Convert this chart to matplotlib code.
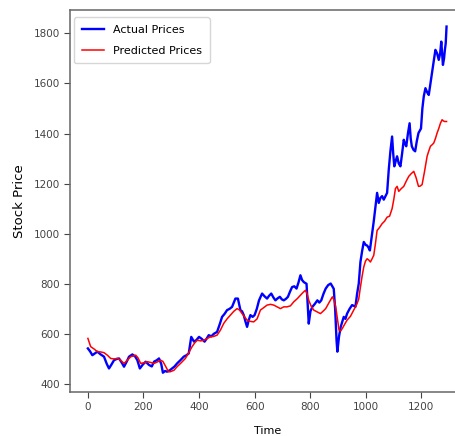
import matplotlib
matplotlib.use("Agg")
import matplotlib.pyplot as plt

# values
actual_t = [0, 8, 16, 25, 34, 46, 58, 68, 76, 85, 94, 104, 112, 122, 130, 140, 148, 160,
            170, 178, 187, 198, 208, 220, 230, 238, 248, 256, 264, 270, 278, 285, 295, 303,
            312, 321, 333, 345, 355, 363, 372, 382, 390, 400, 410, 420, 428, 435, 444, 453,
            465, 475, 483, 492, 501, 510, 519, 525, 531, 540, 549, 555, 561, 567, 573, 579,
            585, 593, 600, 608, 616, 627, 636, 645, 652, 660, 668, 675, 683, 691, 698, 705,
            713, 720, 728, 735, 743, 751, 758, 765, 771, 777, 787, 791, 795, 801, 808, 817,
            826, 833, 840, 848, 856, 865, 874, 885, 890, 895, 898, 904, 910, 916, 921, 927,
            933, 942, 951, 957, 963, 969, 975, 981, 987, 993, 1000, 1005, 1010, 1015, 1023,
            1029, 1035, 1041, 1047, 1053, 1059, 1065, 1071, 1077, 1083, 1089, 1095, 1099,
            1103, 1108, 1113, 1119, 1125, 1131, 1137, 1141, 1146, 1152, 1158, 1162, 1166,
            1172, 1178, 1184, 1190, 1199, 1204, 1209, 1215, 1221, 1227, 1233, 1239, 1245,
            1251, 1257, 1263, 1268, 1272, 1278, 1282, 1285, 1288, 1291]
actual_p = [542, 530, 515, 522, 529, 518, 509, 480, 462, 478, 495, 500, 502, 485, 469, 490,
            509, 518, 510, 495, 462, 478, 489, 476, 470, 489, 495, 502, 480, 445, 452, 449,
            455, 462, 470, 482, 495, 509, 515, 522, 588, 569, 575, 588, 580, 569, 582, 595,
            590, 600, 608, 640, 668, 680, 695, 700, 708, 725, 741, 741, 695, 690, 675, 650,
            628, 655, 675, 668, 675, 700, 734, 761, 750, 741, 752, 761, 745, 734, 742, 748,
            738, 734, 740, 748, 770, 787, 790, 781, 805, 834, 815, 807, 800, 720, 641, 690,
            708, 720, 734, 725, 734, 760, 781, 795, 801, 780, 700, 575, 529, 590, 628, 650,
            668, 660, 681, 700, 715, 712, 708, 760, 801, 887, 930, 967, 955, 953, 945, 933,
            1000, 1050, 1106, 1163, 1123, 1143, 1150, 1136, 1150, 1163, 1256, 1330, 1388,
            1320, 1269, 1290, 1309, 1280, 1269, 1320, 1375, 1360, 1349, 1400, 1441, 1380,
            1349, 1335, 1329, 1370, 1402, 1420, 1500, 1548, 1581, 1565, 1554, 1600, 1647,
            1690, 1734, 1720, 1694, 1720, 1767, 1674, 1700, 1734, 1760, 1827]

pred_t = [0, 10, 22, 34, 46, 58, 70, 82, 94, 106, 118, 130, 142, 154, 164, 172, 180, 190,
          202, 214, 226, 238, 250, 262, 270, 280, 290, 297, 310, 321, 336, 351, 363, 375,
          385, 394, 406, 418, 430, 441, 453, 465, 477, 489, 501, 513, 525, 537, 546, 555,
          564, 573, 585, 597, 609, 621, 633, 645, 657, 669, 681, 693, 705, 717, 729, 741,
          753, 765, 774, 783, 789, 795, 804, 813, 825, 837, 846, 856, 868, 880, 886, 892,
          898, 904, 910, 916, 925, 933, 945, 957, 963, 969, 975, 981, 987, 993, 999, 1005,
          1011, 1017, 1023, 1029, 1035, 1041, 1050, 1059, 1068, 1077, 1086, 1095, 1101,
          1107, 1113, 1119, 1128, 1137, 1146, 1155, 1164, 1173, 1181, 1190, 1196, 1203,
          1212, 1221, 1227, 1233, 1239, 1245, 1251, 1257, 1263, 1269, 1275, 1280, 1284, 1291]
pred_p = [582, 549, 540, 529, 528, 525, 515, 502, 500, 502, 495, 482, 495, 509, 512, 515,
          505, 482, 485, 489, 486, 482, 488, 495, 490, 470, 449, 449, 455, 469, 485, 502,
          525, 549, 565, 575, 572, 575, 582, 588, 590, 595, 615, 642, 660, 675, 690, 701,
          695, 681, 668, 655, 650, 648, 660, 695, 705, 715, 718, 715, 708, 701, 708, 708,
          712, 728, 740, 754, 765, 774, 760, 734, 710, 695, 688, 681, 690, 701, 725, 748,
          735, 708, 660, 615, 612, 622, 640, 655, 670, 695, 708, 721, 740, 787, 830, 867,
          890, 900, 895, 887, 900, 914, 960, 1013, 1025, 1040, 1050, 1066, 1070, 1100,
          1136, 1180, 1189, 1169, 1180, 1189, 1210, 1229, 1240, 1249, 1225, 1189, 1190,
          1196, 1250, 1309, 1330, 1349, 1355, 1362, 1380, 1402, 1420, 1441, 1455, 1450,
          1448, 1448]

fig = plt.figure(figsize=(4.55, 4.36), dpi=100)
# right edge of the axes sits just past the figure, as in the cropped reference
ax = fig.add_axes([0.1538, 0.1009, 0.867, 0.8761])

ax.plot(actual_t, actual_p, color="blue", linewidth=1.7, label="Actual Prices")
ax.plot(pred_t, pred_p, color="red", linewidth=1.1, label="Predicted Prices")

ax.set_xlim(-64.5, 1355.5)
ax.set_ylim(368, 1893)
ax.set_xticks([0, 200, 400, 600, 800, 1000, 1200])
ax.set_yticks([400, 600, 800, 1000, 1200, 1400, 1600, 1800])
ax.tick_params(labelsize=7.5, length=4, width=0.8, colors="#444444", pad=3)
ax.set_xlabel("Time", fontsize=8, labelpad=10)
ax.set_ylabel("Stock Price", fontsize=9.5, labelpad=6)
for s in ax.spines.values():
    s.set_color("#666666")
    s.set_linewidth(1.1)

ax.legend(loc="upper left", bbox_to_anchor=(0.0101, 0.981), borderaxespad=0,
          fontsize=8, frameon=True, handlelength=2.0, handletextpad=0.8,
          labelspacing=0.95, borderpad=0.7)

fig.savefig("out.png", dpi=100)
